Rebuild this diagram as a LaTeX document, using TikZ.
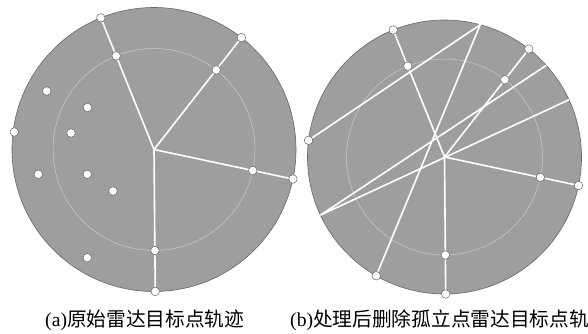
\documentclass[tikz,border=0pt]{standalone}
\usepackage{fontspec}
\setmainfont{Liberation Serif}
\newfontfamily\cjk{Noto Sans CJK SC}
\usetikzlibrary{positioning, calc}
\tikzset{
    radar/.style = {draw=black!60, line width=0.6pt, fill=black!38},
    ring/.style = {draw=white!80!black, line width=0.5pt},
    track/.style = {draw=white, line width=1.6pt},
    dot/.style = {draw=black!60, circle, fill=white, inner sep=0pt, minimum size=8.5pt, line width=0.5pt},
    caption/.style = {font=\fontsize{19.7}{22}\selectfont, inner sep=0pt, anchor=west}
}

\begin{document}
\begin{tikzpicture}[x=1pt, y=-1pt]
    \useasboundingbox (0,0) rectangle (588,333);

    % (a) raw tracks
    \coordinate (ca) at (154,149.5);
    \draw[radar] (ca) circle[radius=142];
    \draw[ring] (ca) circle[radius=101];
    \foreach \ang [count=\i] in {248,308,12,89.5} {
        \node[dot] (ain\i) at ($(ca)+(\ang:101)$) {};
        \node[dot] (aout\i) at ($(ca)+(\ang:142)$) {};
        \draw[track] (ca) -- (ain\i) -- (aout\i);
    }
    % isolated points
    \foreach \p [count=\i] in {{(46.7,91)},{(87.5,107.5)},{(71,133)},{(14.3,132)},
                               {(38.3,174.3)},{(87.3,174.3)},{(113,191)},{(87.3,257.7)}} {
        \node[dot] (aiso\i) at \p {};
    }

    % (b) after removing isolated points
    \coordinate (cb) at (444.5,157);
    \draw[radar] (cb) circle[radius=137];
    \draw[ring] (cb) circle[radius=98];
    \foreach \ang [count=\i] in {248,308,12,89.5} {
        \node[dot] (bin\i) at ($(cb)+(\ang:98)$) {};
        \node[dot] (bout\i) at ($(cb)+(\ang:137)$) {};
        \draw[track] (cb) -- (bin\i) -- (bout\i);
    }
    % crossing tracks
    \node[dot] (bl1) at ($(cb)+(187:137)$) {};
    \node[dot] (bl2) at ($(cb)+(119.9:137)$) {};
    \coordinate (bt) at ($(cb)+(285.1:137)$);
    \coordinate (bw) at ($(cb)+(154.9:137)$);
    \coordinate (be1) at ($(cb)+(318:137)$);
    \coordinate (be2) at ($(cb)+(335.3:137)$);
    \draw[track] (bl1) -- (bt) -- (bl2);
    \draw[track] (be1) -- (bw) -- (be2);

    % captions
    \node[caption] (capa) at (45,320) {(a)\cjk 原始雷达目标点轨迹};
    \node[caption] (capb) at (290,320) {(b)\cjk 处理后删除孤立点雷达目标点轨};

\end{tikzpicture}
\end{document}
